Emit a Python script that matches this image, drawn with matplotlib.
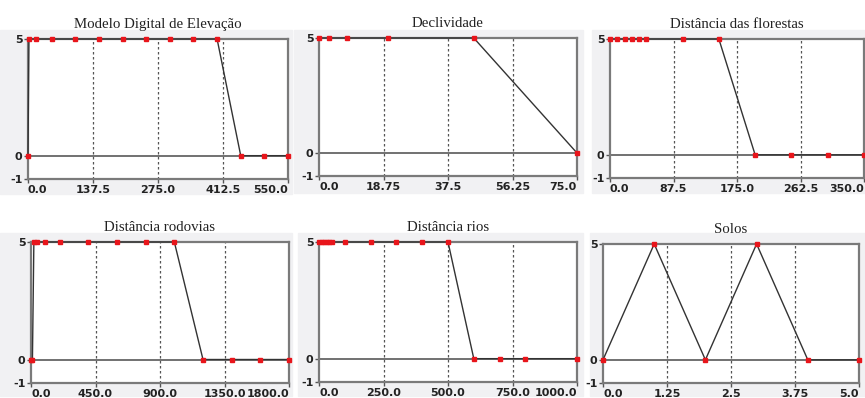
import matplotlib
matplotlib.use("Agg")
import matplotlib.pyplot as plt
from matplotlib.patches import Rectangle

# panel titles
titles = ["Modelo Digital de Elevação", "Declividade", "Distância das florestas",
          "Distância rodovias", "Distância rios", "Solos"]

# fuzzy membership curves (x, y)
mde_x = [0, 2, 17, 50, 100, 150, 200, 250, 300, 350, 400, 450, 500, 550]
mde_y = [0, 5, 5, 5, 5, 5, 5, 5, 5, 5, 5, 0, 0, 0]

decl_x = [0, 3, 8, 20, 45, 75]
decl_y = [5, 5, 5, 5, 5, 0]

flor_x = [0, 10, 20, 30, 40, 50, 100, 150, 200, 250, 300, 350]
flor_y = [5, 5, 5, 5, 5, 5, 5, 5, 0, 0, 0, 0]

rod_x = [0, 10, 20, 40, 100, 200, 400, 600, 800, 1000, 1200, 1400, 1600, 1800]
rod_y = [0, 0, 5, 5, 5, 5, 5, 5, 5, 5, 0, 0, 0, 0]

rios_x = [0, 10, 20, 30, 40, 50, 100, 200, 300, 400, 500, 600, 700, 800, 1000]
rios_y = [5, 5, 5, 5, 5, 5, 5, 5, 5, 5, 5, 0, 0, 0, 0]

solo_x = [0, 1, 2, 3, 4, 5]
solo_y = [0, 5, 0, 5, 0, 0]

# x tick values and labels for each panel
xticks = [
    [0, 137.5, 275, 412.5, 550],
    [0, 18.75, 37.5, 56.25, 75],
    [0, 87.5, 175, 262.5, 350],
    [0, 450, 900, 1350, 1800],
    [0, 250, 500, 750, 1000],
    [0, 1.25, 2.5, 3.75, 5],
]
xlabels = [
    ["0.0", "137.5", "275.0", "412.5", "550.0"],
    ["0.0", "18.75", "37.5", "56.25", "75.0"],
    ["0.0", "87.5", "175.0", "262.5", "350.0"],
    ["0.0", "450.0", "900.0", "1350.0", "1800.0"],
    ["0.0", "250.0", "500.0", "750.0", "1000.0"],
    ["0.0", "1.25", "2.5", "3.75", "5.0"],
]
yticks = [-1, 0, 5]
ylabels = ["-1", "0", "5"]

series = [(mde_x, mde_y), (decl_x, decl_y), (flor_x, flor_y),
          (rod_x, rod_y), (rios_x, rios_y), (solo_x, solo_y)]

W, H = 865, 398
# axes boxes in pixels: left, right, top, bottom
boxes = [(28, 288, 39, 179), (319, 577, 38, 176), (610, 864, 39, 178),
         (31, 289, 242, 383), (319, 577, 242, 382), (603, 859, 244, 383)]
# light grey window backgrounds in pixels
panels = [(0, 292, 30, 194), (294, 583, 30, 193), (592, 865, 30, 193),
          (0, 292, 233, 396), (298, 583, 233, 396), (590, 865, 233, 396)]

fig = plt.figure(figsize=(W / 100, H / 100), dpi=100)
fig.patch.set_facecolor("white")

for (l, r, t, b) in panels:
    fig.add_artist(Rectangle((l / W, 1 - b / H), (r - l) / W, (b - t) / H,
                             transform=fig.transFigure, color="#f1f1f3", zorder=0))

for i, ((x, y), (l, r, t, b)) in enumerate(zip(series, boxes)):
    ax = fig.add_axes([l / W, 1 - b / H, (r - l) / W, (b - t) / H])
    ax.set_facecolor("white")
    ax.set_xlim(xticks[i][0], xticks[i][-1])
    ax.set_ylim(-1, 5)

    for xv in xticks[i][1:-1]:
        ax.axvline(xv, color="#555555", lw=0.9, ls=(0, (2, 2)), zorder=1)
    ax.axhline(0, color="#666666", lw=1.3, zorder=1)

    ax.plot(x, y, color="#333333", lw=1.0, zorder=3, clip_on=False)
    ax.plot(x, y, ls="none", marker="s", ms=3, color="#e8151b", zorder=4, clip_on=False)

    for s in ax.spines.values():
        s.set_color("#7a7a7a")
        s.set_linewidth(1.6)

    ax.set_xticks(xticks[i])
    ax.set_xticklabels(xlabels[i], fontsize=8, fontweight="bold", color="#222222")
    labs = ax.get_xticklabels()
    labs[0].set_ha("left")
    labs[-1].set_ha("right")
    ax.set_yticks(yticks)
    ax.set_yticklabels(ylabels, fontsize=8, fontweight="bold", color="#222222")
    ax.tick_params(length=3, width=1, color="#555555", pad=1)

    ax.set_title(titles[i], fontsize=10.7, family="Liberation Serif", color="#222222", pad=8)

fig.savefig("out.png", dpi=100)
